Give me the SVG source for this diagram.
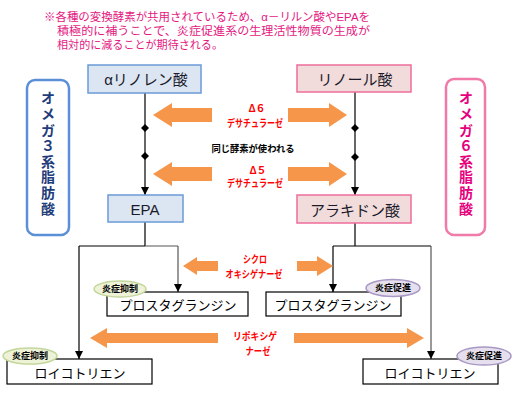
<svg xmlns="http://www.w3.org/2000/svg" width="529" height="409" viewBox="0 0 529 409">
<style>
text{font-family:"Liberation Sans","Noto Sans CJK JP",sans-serif}
.note{fill:#e4187f;font-size:11.5px}
.bluebox{fill:#dce6f2;stroke:#6b9bd8;stroke-width:1.5}
.pinkbox{fill:#f2dcdb;stroke:#ee6e9c;stroke-width:1.5}
.wbox{fill:#fff;stroke:#000;stroke-width:1.2}
.btxt{fill:#1a1a2a;font-size:15px;text-anchor:middle}
.ktxt{fill:#000;font-size:13px;text-anchor:middle}
.enz{fill:#f00;font-size:10px;font-weight:bold;text-anchor:middle}
.arr{fill:#f6964a}
.line{stroke:#000;stroke-width:1.2;fill:none}
.gline{stroke:#555;stroke-width:1.2;fill:none}
.inh{fill:#eef3d8;stroke:#c3d69b;stroke-width:1.5}
.pro{fill:#e6e0ee;stroke:#a898c4;stroke-width:1.5}
.badge{fill:#000;font-size:9px;font-weight:bold;text-anchor:middle}
.vt3{fill:#1f3d7a;font-size:14px;font-weight:bold;text-anchor:middle}
.vt6{fill:#e6007e;font-size:14px;font-weight:bold;text-anchor:middle}
</style>
<defs>
<marker id="ah" markerUnits="userSpaceOnUse" markerWidth="10" markerHeight="10" viewBox="0 0 10 10" refX="9" refY="5" orient="auto">
<path d="M1,1 L9,5 L1,9 Z" fill="#000"/>
</marker>
<marker id="dm" markerUnits="userSpaceOnUse" markerWidth="8" markerHeight="8" viewBox="0 0 8 8" refX="4" refY="4">
<path d="M4,0 L8,4 L4,8 L0,4 Z" fill="#000"/>
</marker>
</defs>
<rect width="529" height="409" fill="#fff"/>

<g id="note">
<text class="note" x="44" y="21" textLength="326" lengthAdjust="spacingAndGlyphs">※各種の変換酵素が共用されているため、α－リルン酸やEPAを</text>
<text class="note" x="57" y="35" textLength="313" lengthAdjust="spacingAndGlyphs">積極的に補うことで、炎症促進系の生理活性物質の生成が</text>
<text class="note" x="57" y="49" textLength="166" lengthAdjust="spacingAndGlyphs">相対的に減ることが期待される。</text>
</g>

<g id="omega3">
<rect x="27" y="80" width="42" height="155" rx="8" fill="#fff" stroke="#5b8fd8" stroke-width="2.5"/>
<text class="vt3"><tspan x="48" y="103">オ</tspan><tspan x="48" y="119">メ</tspan><tspan x="48" y="136">ガ</tspan><tspan x="48" y="151">３</tspan><tspan x="48" y="167">系</tspan><tspan x="48" y="182">脂</tspan><tspan x="48" y="198">肪</tspan><tspan x="48" y="214">酸</tspan></text>
</g>
<g id="omega6">
<rect x="446" y="79" width="39" height="156" rx="8" fill="#fff" stroke="#f07aa8" stroke-width="2.5"/>
<text class="vt6"><tspan x="466" y="103">オ</tspan><tspan x="466" y="119">メ</tspan><tspan x="466" y="136">ガ</tspan><tspan x="466" y="151">６</tspan><tspan x="466" y="167">系</tspan><tspan x="466" y="182">脂</tspan><tspan x="466" y="198">肪</tspan><tspan x="466" y="214">酸</tspan></text>
</g>

<g id="connectors">
<line class="line" x1="145" y1="93" x2="145" y2="195" marker-end="url(#ah)"/>
<line class="line" x1="355" y1="92" x2="355" y2="195" marker-end="url(#ah)"/>
<path d="M145,128 L145,128" class="line" marker-start="url(#dm)"/>
<path d="M145,156 L145,156" class="line" marker-start="url(#dm)"/>
<path d="M355,128 L355,128" class="line" marker-start="url(#dm)"/>
<path d="M355,157 L355,157" class="line" marker-start="url(#dm)"/>
<path class="line" d="M145,222 V246 M79,246 H145"/>
<path class="gline" d="M145,246 H178"/>
<line class="line" x1="79" y1="246" x2="79" y2="359" marker-end="url(#ah)"/>
<line class="gline" x1="178" y1="246" x2="178" y2="292" marker-end="url(#ah)"/>
<path class="line" d="M355,223 V246 M333,246 H431"/>
<line class="line" x1="333" y1="246" x2="333" y2="292" marker-end="url(#ah)"/>
<line class="gline" x1="431" y1="246" x2="431" y2="359" marker-end="url(#ah)"/>
</g>

<g id="arrows">
<polygon class="arr" points="153,115 172,103 172,108 212,108 212,122 172,122 172,127"/>
<polygon class="arr" points="288,108 329,108 329,103 347,115 329,127 329,122 288,122"/>
<polygon class="arr" points="153,174 172,162 172,167 212,167 212,181 172,181 172,186"/>
<polygon class="arr" points="288,167 329,167 329,162 347,174 329,186 329,181 288,181"/>
<polygon class="arr" points="183,266 197,257 197,261 218,261 218,271 197,271 197,275"/>
<polygon class="arr" points="297,261 317,261 317,256 333,266 317,276 317,271 297,271"/>
<polygon class="arr" points="90,338 107,328 107,333 218,333 218,343 107,343 107,348"/>
<polygon class="arr" points="294,333 407,333 407,328 424,338 407,348 407,343 294,343"/>
</g>

<g id="labels">
<text class="enz" x="257" y="112" font-size="12">Δ６</text>
<text class="enz" x="255" y="127" textLength="56" lengthAdjust="spacingAndGlyphs">デサチュラーゼ</text>
<text x="253" y="152" font-size="9.5" font-weight="bold" text-anchor="middle" fill="#000" textLength="83" lengthAdjust="spacingAndGlyphs">同じ酵素が使われる</text>
<text class="enz" x="258" y="174" font-size="12">Δ５</text>
<text class="enz" x="255" y="187" textLength="56" lengthAdjust="spacingAndGlyphs">デサチュラーゼ</text>
<text class="enz" x="255" y="263" textLength="24" lengthAdjust="spacingAndGlyphs">シクロ</text>
<text class="enz" x="254" y="278" textLength="57" lengthAdjust="spacingAndGlyphs">オキシゲナーゼ</text>
<text class="enz" x="255" y="340" textLength="44" lengthAdjust="spacingAndGlyphs">リポキシゲ</text>
<text class="enz" x="258" y="355" textLength="25" lengthAdjust="spacingAndGlyphs">ナーゼ</text>
</g>

<g id="alpha">
<rect class="bluebox" x="88" y="65" width="113" height="28"/>
<text class="btxt" x="146" y="85" font-size="16">αリノレン酸</text>
</g>
<g id="linoleic">
<rect class="pinkbox" x="297" y="65" width="114" height="27"/>
<text class="btxt" x="355" y="85">リノール酸</text>
</g>
<g id="epa">
<rect class="bluebox" x="108" y="195" width="75" height="27"/>
<text class="btxt" x="145" y="215" font-size="18">EPA</text>
</g>
<g id="arachidonic">
<rect class="pinkbox" x="297" y="195" width="114" height="28"/>
<text class="btxt" x="355" y="216">アラキドン酸</text>
</g>

<g id="pg-left">
<rect class="wbox" x="107" y="292" width="141" height="24"/>
<text class="ktxt" x="178" y="310">プロスタグランジン</text>
<ellipse class="inh" cx="120" cy="289" rx="26" ry="8"/>
<text class="badge" x="120" y="292">炎症抑制</text>
</g>
<g id="pg-right">
<rect class="wbox" x="266" y="292" width="135" height="24"/>
<text class="ktxt" x="333" y="310">プロスタグランジン</text>
<ellipse class="pro" cx="393" cy="288" rx="27" ry="8.5"/>
<text class="badge" x="393" y="291">炎症促進</text>
</g>
<g id="lt-left">
<rect class="wbox" x="7" y="359" width="145" height="25"/>
<text class="ktxt" x="80" y="378">ロイコトリエン</text>
<ellipse class="inh" cx="30" cy="356" rx="27" ry="8"/>
<text class="badge" x="30" y="359">炎症抑制</text>
</g>
<g id="lt-right">
<rect class="wbox" x="363" y="359" width="135" height="25"/>
<text class="ktxt" x="430" y="378">ロイコトリエン</text>
<ellipse class="pro" cx="484" cy="356" rx="27" ry="9"/>
<text class="badge" x="484" y="359">炎症促進</text>
</g>
</svg>
